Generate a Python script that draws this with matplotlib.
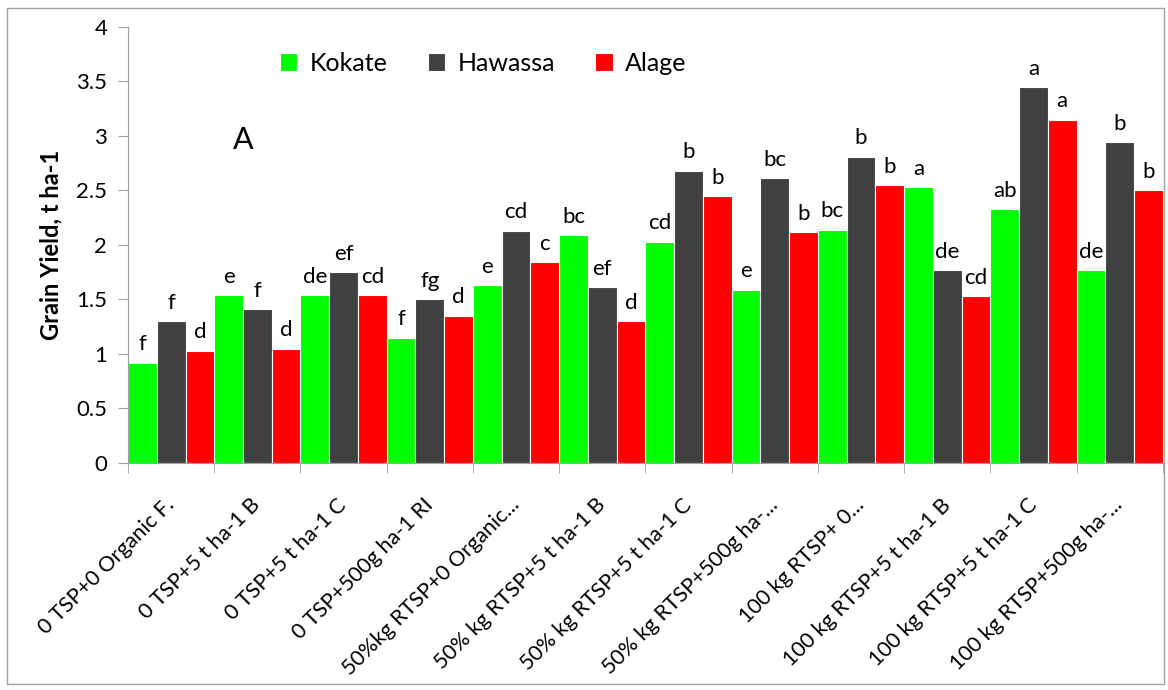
import matplotlib.pyplot as plt
import numpy as np
from matplotlib.patches import Rectangle

plt.rcParams['font.family'] = ['Lato', 'DejaVu Sans']

treatments = ['0 TSP+0 Organic F.', '0 TSP+5 t ha-1 B', '0 TSP+5 t ha-1 C',
              '0 TSP+500g ha-1 RI', '50%kg RTSP+0 Organic...', '50% kg RTSP+5 t ha-1 B',
              '50% kg RTSP+5 t ha-1 C', '50% kg RTSP+500g ha-...', '100 kg RTSP+ 0...',
              '100 kg RTSP+5 t ha-1 B', '100 kg RTSP+5 t ha-1 C', '100 kg RTSP+500g ha-...']
kokate = [0.92, 1.54, 1.54, 1.15, 1.63, 2.09, 2.03, 1.59, 2.14, 2.53, 2.33, 1.77]
hawassa = [1.30, 1.41, 1.75, 1.50, 2.13, 1.61, 2.68, 2.61, 2.81, 1.77, 3.45, 2.94]
alage = [1.03, 1.05, 1.54, 1.35, 1.84, 1.30, 2.45, 2.12, 2.55, 1.53, 3.15, 2.50]
kokate_lbl = ['f', 'e', 'de', 'f', 'e', 'bc', 'cd', 'e', 'bc', 'a', 'ab', 'de']
hawassa_lbl = ['f', 'f', 'ef', 'fg', 'cd', 'ef', 'b', 'bc', 'b', 'de', 'a', 'b']
alage_lbl = ['d', 'd', 'cd', 'd', 'c', 'd', 'b', 'b', 'b', 'cd', 'a', 'b']

fig = plt.figure(figsize=(11.68, 6.9), dpi=100)
ax = fig.add_axes([0.1096, 0.329, 0.886, 0.632])

# outer frame
fig.patches.append(Rectangle((0.006, 0.008), 0.991, 0.981, transform=fig.transFigure,
                             fill=False, edgecolor='#a0a0a0', linewidth=1))

x = np.arange(len(treatments))
w = 1 / 3
series = [(kokate, kokate_lbl, '#00ff00', 'Kokate'),
          (hawassa, hawassa_lbl, '#404040', 'Hawassa'),
          (alage, alage_lbl, '#ff0000', 'Alage')]
for i, (vals, lbls, col, name) in enumerate(series):
    pos = x - 0.5 + w * (i + 0.5)
    bars = ax.bar(pos, vals, width=w, color=col, edgecolor='white', linewidth=0.8, label=name)
    for b, t in zip(bars, lbls):
        ax.annotate(t, (b.get_x() + b.get_width() / 2, b.get_height()),
                    xytext=(0, 6), textcoords='offset points',
                    ha='center', va='bottom', fontsize=16)

ax.set_xlim(-0.5, len(treatments) - 0.5)
ax.set_ylim(0, 4)
ax.set_yticks(np.arange(0, 4.01, 0.5))
ax.set_yticklabels(['0', '0.5', '1', '1.5', '2', '2.5', '3', '3.5', '4'], fontsize=16)
ax.set_xticks(x)
ax.set_xticklabels(treatments, rotation=45, ha='right', va='center',
                   rotation_mode='anchor', fontsize=15.5)
ax.set_xticks(np.arange(-0.5, len(treatments)), minor=True)
ax.tick_params(axis='x', which='major', length=0, pad=28)
ax.tick_params(axis='x', which='minor', length=7, color='#a0a0a0')
ax.tick_params(axis='y', length=7, color='#a0a0a0', pad=8)
for s in ['top', 'right']:
    ax.spines[s].set_visible(False)
for s in ['left', 'bottom']:
    ax.spines[s].set_color('#a0a0a0')
ax.set_ylabel('Grain Yield, t ha-1', fontsize=17, fontweight='bold', labelpad=10)

ax.text(0.72, 2.96, 'A', fontsize=22, va='center', ha='left')
ax.legend(loc='upper left', bbox_to_anchor=(0.125, 0.995), ncol=3, frameon=False,
          fontsize=18, handlelength=0.7, handleheight=0.7, columnspacing=1.6, handletextpad=0.5)

plt.savefig('out.png', dpi=100)
